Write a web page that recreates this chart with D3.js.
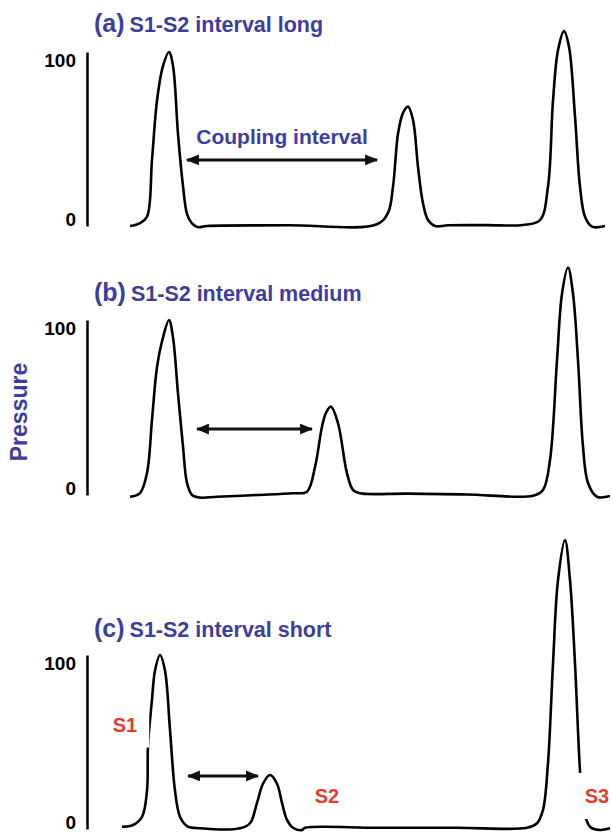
<!DOCTYPE html>
<html>
<head>
<meta charset="utf-8">
<script src="https://cdn.jsdelivr.net/npm/d3@7"></script>
<style>
  body { margin: 0; background: #fff; }
  svg { display: block; font-family: "Liberation Sans", Arial, Helvetica, sans-serif; font-weight: bold; }
</style>
</head>
<body>
<svg id="chart"></svg>
<script>
// time values (arbitrary units) and pressure for each trace
const timeA = [43, 53, 60, 65, 70, 76, 82, 86, 91, 96, 100, 105, 111, 120, 200, 290, 301, 306, 311, 316, 321, 326, 331, 336, 341, 348, 361, 400, 436, 453, 461, 466, 471, 477, 482, 488, 493, 498, 505, 518];
const pressA = [0, 1.7, 5.3, 38, 72, 92, 100, 92, 53, 23, 7, 1.5, -0.7, 0, 0.4, 1, 7.5, 22.6, 53, 65, 68.6, 61, 34, 13, 3.4, 0, 0.4, 0.5, 0.6, 3.4, 22.6, 72, 101, 112, 103, 63, 22.6, 5.3, -0.4, 0];

const timeB = [43, 53, 60, 65, 70, 76, 82, 86, 91, 96, 100, 105, 113, 130, 170, 206, 220, 228, 235, 239, 244, 251, 260, 266, 273, 320, 380, 446, 456, 463, 470, 475, 481, 486, 491, 496, 501, 510, 523];
const pressB = [-1, 1.1, 12.6, 43, 73, 90, 100, 90, 58, 27.6, 6.9, 0, -1.5, -1, 0, 1, 1.9, 16, 39, 47, 50.5, 41, 12.4, 2.9, 1, 0.8, 0.3, -0.4, 2.9, 20, 77, 115, 130, 115, 77, 27.6, 6.9, -1, -0.6];

const timeC = [35, 46, 55, 60, 61, 65, 68, 73, 78, 83, 88, 93, 100, 113, 153, 163, 170, 176, 183, 190, 195, 200, 206, 215, 218, 290, 370, 440, 450, 456, 461, 466, 471, 478, 483, 488, 493, 496, 503, 513, 523];
const pressC = [1.3, 2.3, 7, 22, 48, 74.5, 91, 100, 91, 57, 22, 7, 1.7, 0.4, 0.4, 3.3, 15, 26, 31, 26, 15, 5.2, 0.7, -0.6, 0.7, 0.7, 0.7, 0.7, 3.3, 11, 38, 95, 143, 166, 143, 95, 33.5, 12.8, 1.3, -0.6, 0.4];

const panelTags = ["(a)", "(b)", "(c)"];
const panelTitles = ["S1-S2 interval long", "S1-S2 interval medium", "S1-S2 interval short"];
const tickValues = [0, 100];

// coupling interval arrows: start time, end time, pressure level
const arrowStart = [100, 110, 101];
const arrowEnd = [290, 225, 171];
const arrowLevel = [38, 37.7, 30.5];

const stimLabels = ["S1", "S2", "S3"];
const stimTime = [38, 240, 510];
const stimPress = [60, 19, 19];

const width = 612, height = 834;
const blue = "#3d3d9f", red = "#e53a2e";

const svg = d3.select('#chart')
  .attr('width', width)
  .attr('height', height);

svg.append('defs').append('marker')
  .attr('id', 'head')
  .attr('viewBox', '0 0 12 10')
  .attr('refX', 11)
  .attr('refY', 5)
  .attr('markerUnits', 'userSpaceOnUse')
  .attr('markerWidth', 13)
  .attr('markerHeight', 11)
  .attr('orient', 'auto-start-reverse')
  .append('path')
  .attr('d', 'M0,0 L12,5 L0,10 Z')
  .attr('fill', '#111');

let x = d3.scaleLinear()
  .domain([0, 525])
  .range([87, 612]);

// vertical placement of each panel: [zero, hundred] in pixels, title baseline
const panelY = [[226, 52], [495, 320], [829, 655]];
const titleY = [32, 301, 637];
const series = [[timeA, pressA], [timeB, pressB], [timeC, pressC]];

panelY.forEach((py, i) => {
  let y = d3.scaleLinear()
    .domain([0, 100])
    .range(py);

  // title
  let title = svg.append('text')
    .attr('x', 94)
    .attr('y', titleY[i])
    .attr('fill', blue);
  title.append('tspan').attr('font-size', 25).text(panelTags[i]);
  title.append('tspan').attr('font-size', 21.5).attr('dx', 5).text(panelTitles[i]);

  // axis
  let y_axis = d3.axisLeft(y)
    .tickValues(tickValues)
    .tickSize(0)
    .tickPadding(11);

  let g = svg.append('g')
    .attr('transform', 'translate(' + x.range()[0] + ',0)')
    .call(y_axis);
  g.select('.domain').attr('stroke', '#000').attr('stroke-width', 2.5);
  g.selectAll('.tick text')
    .attr('font-size', 19)
    .attr('font-family', '"Liberation Sans", Arial, sans-serif')
    .attr('font-weight', 'bold')
    .attr('fill', '#000')
    .attr('dy', d => d === 100 ? '0.75em' : '-0.05em');

  // pressure trace
  let [ts, ps] = series[i];
  let line = d3.line()
    .x((d, j) => x(ts[j]))
    .y(d => y(d))
    .curve(d3.curveCatmullRom.alpha(0.5));

  svg.append('path')
    .datum(ps)
    .attr('d', line)
    .attr('fill', 'none')
    .attr('stroke', '#000')
    .attr('stroke-width', 2.6)
    .attr('stroke-linejoin', 'round');

  // coupling interval arrow
  svg.append('line')
    .attr('x1', x(arrowStart[i]))
    .attr('x2', x(arrowEnd[i]))
    .attr('y1', y(arrowLevel[i]))
    .attr('y2', y(arrowLevel[i]))
    .attr('stroke', '#111')
    .attr('stroke-width', 3)
    .attr('marker-start', 'url(#head)')
    .attr('marker-end', 'url(#head)');

  if (i === 0) {
    svg.append('text')
      .attr('x', (x(arrowStart[i]) + x(arrowEnd[i])) / 2)
      .attr('y', y(arrowLevel[i]) - 16)
      .attr('text-anchor', 'middle')
      .attr('font-size', 21)
      .attr('fill', blue)
      .text('Coupling interval');
  }

  if (i === 2) {
    stimLabels.forEach((s, k) => {
      let lx = x(stimTime[k]), ly = y(stimPress[k]);
      let t = svg.append('text')
        .attr('x', lx)
        .attr('y', ly)
        .attr('dy', '0.35em')
        .attr('text-anchor', 'middle')
        .attr('font-size', 20)
        .attr('fill', red)
        .text(s);
      let bb = t.node().getBBox();
      if (k !== 1) {
        // white patch so the label interrupts the trace, as in the figure
        svg.insert('rect', () => t.node())
          .attr('x', bb.x - 12)
          .attr('y', bb.y - 12)
          .attr('width', bb.width + 24)
          .attr('height', bb.height + 24)
          .attr('fill', '#fff');
      }
    });
  }
});

// shared y label
svg.append('text')
  .attr('transform', 'translate(27,412) rotate(-90)')
  .attr('text-anchor', 'middle')
  .attr('font-size', 23)
  .attr('fill', blue)
  .text('Pressure');
</script>
</body>
</html>
